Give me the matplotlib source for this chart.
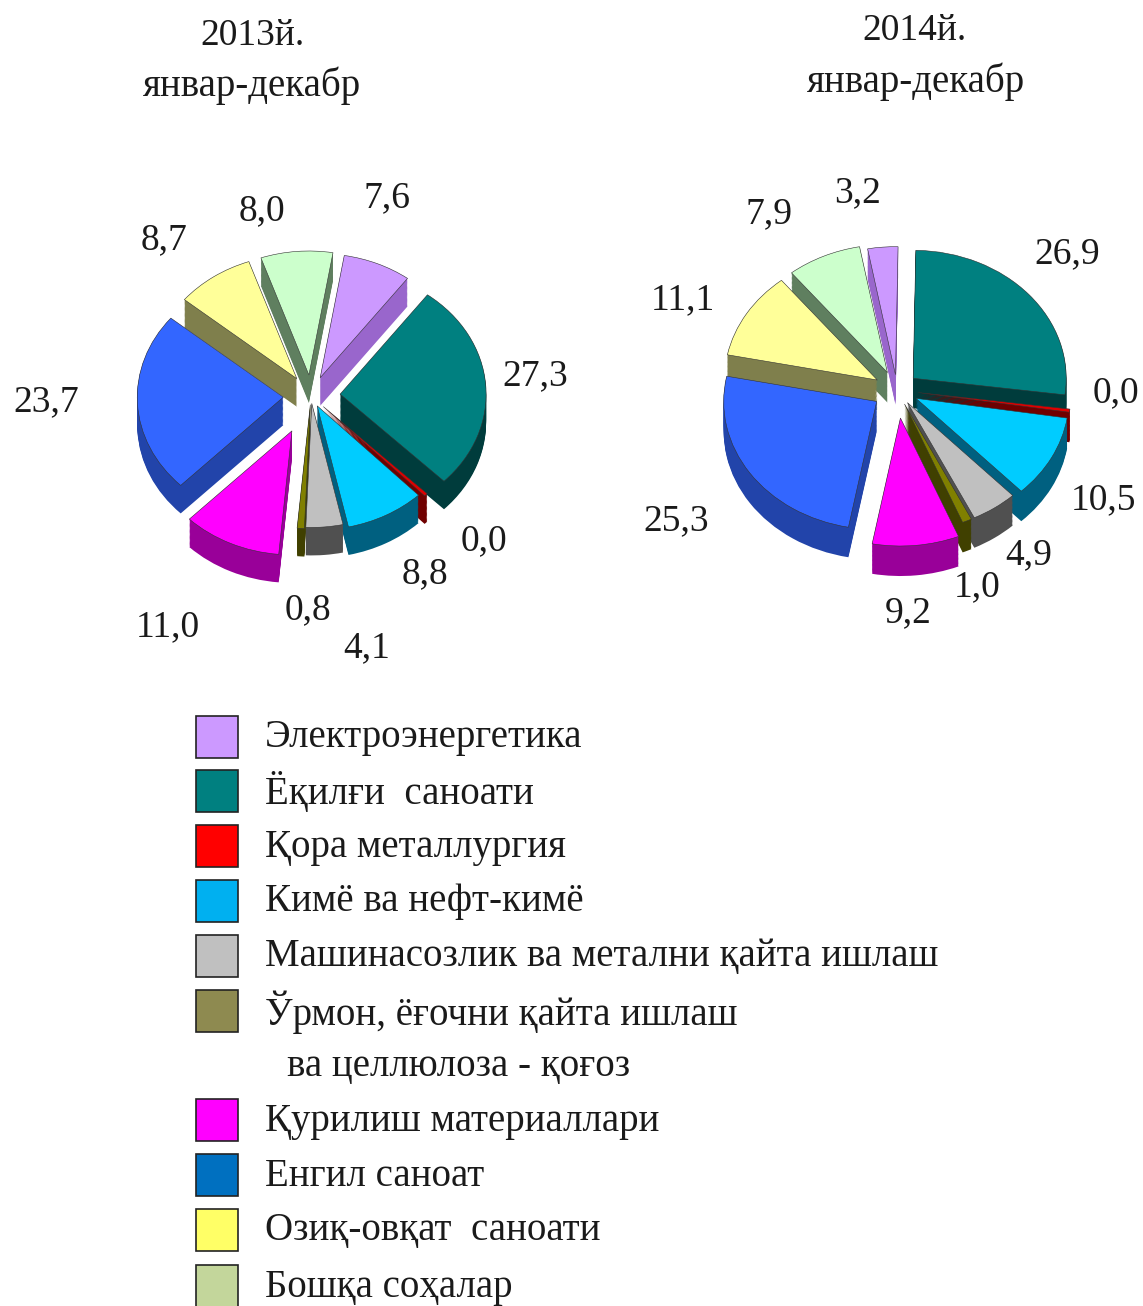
import matplotlib
matplotlib.use("Agg")
import matplotlib.pyplot as plt
from matplotlib.patches import Rectangle
import numpy as np

plt.rcParams['font.family'] = ['Liberation Serif', 'DejaVu Serif']

W, H = 1143, 1306
titles = ["2013й.", "январ-декабр", "2014й.", "январ-декабр"]
legend_names = ["Электроэнергетика", "Ёқилғи  саноати", "Қора металлургия", "Кимё ва нефт-кимё",
                "Машинасозлик ва метални қайта ишлаш", "Ўрмон, ёғочни қайта ишлаш",
                "Қурилиш материаллари", "Енгил саноат", "Озиқ-овқат  саноати", "Бошқа соҳалар"]
legend_extra = "ва целлюлоза - қоғоз"
legend_colors = ["#CC99FF", "#008080", "#FF0000", "#00B0F0", "#C0C0C0", "#8E8A50",
                 "#FF00FF", "#0070C0", "#FFFF66", "#C3D69B"]

top_colors = ["#CC99FF", "#008080", "#E00000", "#00CCFF", "#C0C0C0", "#808000",
              "#FF00FF", "#3366FF", "#FFFF99", "#CCFFCC"]
side_colors = ["#9966CC", "#003C3C", "#700000", "#006080", "#505050", "#404000",
               "#990099", "#2244AA", "#7F7F4C", "#5F7F5F"]

labels_2013 = ["7,6", "27,3", "0,0", "8,8", "4,1", "0,8", "11,0", "23,7", "8,7", "8,0"]
labels_2014 = ["3,2", "26,9", "0,0", "10,5", "4,9", "1,0", "9,2", "25,3", "11,1", "7,9"]
values_2013 = [7.6, 27.3, 0.4, 8.8, 4.1, 0.8, 11.0, 23.7, 8.7, 8.0]
values_2014 = [3.2, 26.9, 0.4, 10.5, 4.9, 1.0, 9.2, 25.3, 11.1, 7.9]
explode_2013 = [0.16, 0.20, 0.12, 0.09, 0.06, 0.07, 0.31, 0.19, 0.17, 0.17]
explode_2014 = [0.12, 0.14, 0.14, 0.14, 0.12, 0.12, 0.22, 0.16, 0.15, 0.15]

pos_2013 = [(387, 198), (535, 376), (484, 541), (425, 574), (367, 648), (308, 610), (168, 627), (46, 402), (164, 240), (262, 211)]
pos_2014 = [(858, 193), (1067, 254), (1116, 393), (1103, 500), (1029, 555), (977, 587), (908, 613), (676, 521), (683, 300), (769, 214)]

fig = plt.figure(figsize=(W / 100, H / 100), dpi=100, facecolor="white")

def draw_pie(cx, cy, rx, ry, depth, values, explode, start):
    span = 1.6
    ax = fig.add_axes([(cx - span * rx) / W, 1 - (cy + span * ry) / H, 2 * span * rx / W, 2 * span * ry / H])
    ax.patch.set_alpha(0)
    d_units = depth / ry
    for d in np.linspace(d_units, 0.004, 24):
        ax.pie(values, explode=explode, colors=side_colors, startangle=start, counterclock=False,
               center=(0, -d), radius=1, wedgeprops=dict(linewidth=0, edgecolor="none"), normalize=True)
    ax.pie(values, explode=explode, colors=top_colors, startangle=start, counterclock=False,
           center=(0, 0), radius=1, wedgeprops=dict(linewidth=0.4, edgecolor="#333333"), normalize=True)
    ax.set_aspect("auto")
    ax.set_xlim(-span, span)
    ax.set_ylim(-span, span)
    ax.axis("off")

draw_pie(311, 396, 146, 124, 28, values_2013, explode_2013, 80.5)
draw_pie(897, 390, 153, 128, 30, values_2014, explode_2014, 100.5)

ov = fig.add_axes([0, 0, 1, 1], zorder=5)
ov.set_xlim(0, W)
ov.set_ylim(H, 0)
ov.axis("off")
ov.patch.set_alpha(0)

TXT = "#1a1a1a"
FS = 27
FL = 28
ov.text(252, 36, titles[0], ha="center", va="center", fontsize=FS, color=TXT)
ov.text(252, 86, titles[1], ha="center", va="center", fontsize=FL, color=TXT)
ov.text(915, 31, titles[2], ha="center", va="center", fontsize=FS, color=TXT)
ov.text(916, 82, titles[3], ha="center", va="center", fontsize=FL, color=TXT)
for lab, (x, y) in zip(labels_2013, pos_2013):
    ov.text(x, y, lab, ha="center", va="center", fontsize=FS, color=TXT)
for lab, (x, y) in zip(labels_2014, pos_2014):
    ov.text(x, y, lab, ha="center", va="center", fontsize=FS, color=TXT)

rows = [737, 791, 846, 901, 956, 1011, 1120, 1175, 1230, 1286]
for name, col, y in zip(legend_names, legend_colors, rows):
    ov.add_patch(Rectangle((196, y - 21), 42, 42, facecolor=col, edgecolor="#222222", linewidth=1.2))
    ov.text(265, y + 1, name, ha="left", va="center", fontsize=FL, color=TXT)
ov.text(287, 1067, legend_extra, ha="left", va="center", fontsize=FL, color=TXT)

fig.savefig("out.png", dpi=100)
